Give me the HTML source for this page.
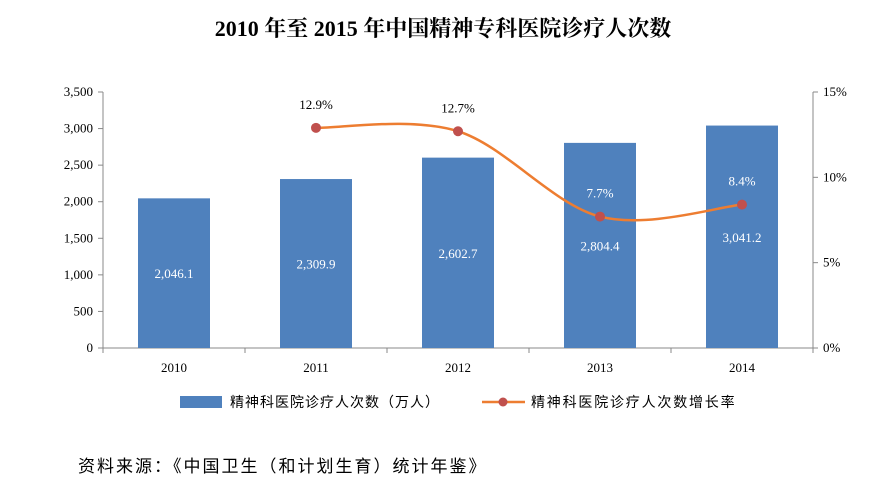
<!DOCTYPE html>
<html><head><meta charset="utf-8">
<style>
body{margin:0;background:#fff;}
svg text{font-family:"Liberation Serif","Noto Serif CJK SC",serif;}
.cjk{font-family:"Liberation Sans","Noto Sans CJK SC",sans-serif !important;}
</style></head>
<body>
<svg width="886" height="496" viewBox="0 0 886 496" xmlns="http://www.w3.org/2000/svg">
<text x="443" y="36" text-anchor="middle" font-size="22" font-weight="bold">2010 年至 2015 年中国精神专科医院诊疗人次数</text>
<g id="plot"></g>
<g>
<rect x="180" y="396" width="42" height="12" fill="#4F81BD"/>
<text x="230" y="407" font-size="14" letter-spacing="1" class="cjk">精神科医院诊疗人次数（万人）</text>
<line x1="482" y1="402" x2="525" y2="402" stroke="#ED7D31" stroke-width="2.5"/>
<circle cx="503" cy="402" r="4.5" fill="#C0504D"/>
<text x="531" y="407" font-size="14" letter-spacing="1.8" class="cjk">精神科医院诊疗人次数增长率</text>
</g>
<text x="78" y="472" font-size="17" letter-spacing="2" class="cjk">资料来源：《中国卫生（和计划生育）统计年鉴》</text>
</svg>
<script>
const categories=["2010","2011","2012","2013","2014"];
const visits=[2046.1,2309.9,2602.7,2804.4,3041.2];
const growth=[null,12.9,12.7,7.7,8.4];
const leftTicks=[0,500,1000,1500,2000,2500,3000,3500];
const rightTicks=[0,5,10,15];

const NS="http://www.w3.org/2000/svg";
const g=document.getElementById('plot');
const L=103,R=813,T=92,B=348;
const yL=v=>B-(v/3500)*(B-T);
const yR=v=>B-(v/15)*(B-T);
const step=(R-L)/categories.length;
const xC=i=>L+step*(i+0.5);
function mk(tag,attrs){const e=document.createElementNS(NS,tag);for(const k in attrs)e.setAttribute(k,attrs[k]);g.appendChild(e);return e;}
const fmt=v=>v.toLocaleString('en-US',{minimumFractionDigits:1,maximumFractionDigits:1});

let e;
e=mk('line',{x1:L,y1:T,x2:L,y2:B,stroke:'#888'});


e=mk('line',{x1:R,y1:T,x2:R,y2:B,stroke:'#888'});


e=mk('line',{x1:L,y1:B,x2:R,y2:B,stroke:'#888'});



leftTicks.forEach(t=>{
  mk('line',{x1:L-5,y1:yL(t),x2:L,y2:yL(t),stroke:'#888'});
  e=mk('text',{x:L-10,y:yL(t)+4,'text-anchor':'end','font-size':13});
  e.textContent=t.toLocaleString('en-US');
  
  
});
rightTicks.forEach(t=>{
  mk('line',{x1:R,y1:yR(t),x2:R+5,y2:yR(t),stroke:'#888'});
  e=mk('text',{x:R+10,y:yR(t)+4,'font-size':13});
  e.textContent=t+'%';
  
  
});
for(let i=0;i<=categories.length;i++){mk('line',{x1:L+step*i,y1:B,x2:L+step*i,y2:B+5,stroke:'#888'});}

categories.forEach((c,i)=>{
  const w=72,top=yL(visits[i]);
  e=mk('rect',{x:xC(i)-w/2,y:top,width:w,height:B-top,fill:'#4F81BD'});
  
  
  e=mk('text',{x:xC(i),y:(top+B)/2+5,'text-anchor':'middle','font-size':13,fill:'#fff'});
  e.textContent=fmt(visits[i]);
  
  
  e=mk('text',{x:xC(i),y:372,'text-anchor':'middle','font-size':13});
  e.textContent=c;
  
  
});

const pts=[];
growth.forEach((v,i)=>{if(v!==null)pts.push([xC(i),yR(v),v,categories[i]]);});
let d='M'+pts[0][0]+','+pts[0][1];
for(let i=0;i<pts.length-1;i++){
  const p0=pts[Math.max(0,i-1)],p1=pts[i],p2=pts[i+1],p3=pts[Math.min(pts.length-1,i+2)];
  const k=1/6;
  d+=` C${p1[0]+(p2[0]-p0[0])*k},${p1[1]+(p2[1]-p0[1])*k} ${p2[0]-(p3[0]-p1[0])*k},${p2[1]-(p3[1]-p1[1])*k} ${p2[0]},${p2[1]}`;
}
e=mk('path',{d:d,fill:'none',stroke:'#ED7D31','stroke-width':2.5});


pts.forEach(p=>{
  e=mk('circle',{cx:p[0],cy:p[1],r:5,fill:'#C0504D'});
  
  
  e=mk('text',{x:p[0],y:p[1]-19,'text-anchor':'middle','font-size':13,fill:p[1]>yL(visits[categories.indexOf(p[3])])+20?'#fff':'#000'});
  e.textContent=p[2].toFixed(1)+'%';
  
  
});
</script>
</body></html>
